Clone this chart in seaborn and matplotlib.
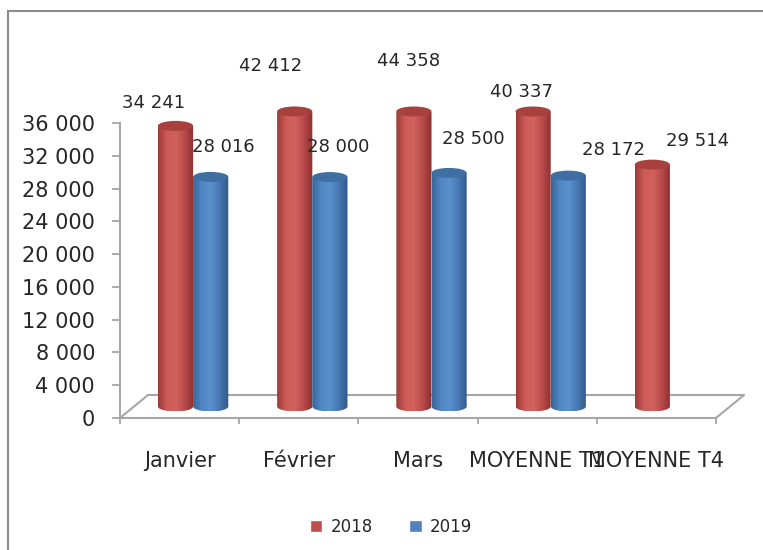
import numpy as np
import pandas as pd
import matplotlib.pyplot as plt
import seaborn as sns
from matplotlib.transforms import ScaledTranslation
from matplotlib.patches import Ellipse, Rectangle, Patch, PathPatch
from matplotlib.path import Path
from matplotlib.colors import LinearSegmentedColormap

# donnees
mois = ["Janvier", "Février", "Mars", "MOYENNE T1", "MOYENNE T4"]
annees = ["2018", "2019"]
valeurs_2018 = [34241, 42412, 44358, 40337, 29514]
valeurs_2019 = [28016, 28000, 28500, 28172, np.nan]
graduations = list(range(0, 36001, 4000))

# decalage des etiquettes (points) par rapport au haut de la barre
decal_2018 = [(-6, 25), (-8, 3), (6, -5), (1, -3), (42, 25)]
decal_2019 = [(19, 30), (16, 30), (27, 33), (42, 27)]

couleurs = ["#C0504D", "#4F81BD"]
degrades = [["#9C3A37", "#CD5B57", "#D2625E", "#B8494A", "#8A302E"],
            ["#3A6699", "#5088C6", "#5A90CE", "#4677B2", "#305887"]]
chapeaux = ["#A8413E", "#3F6EA3"]

df = pd.DataFrame({
    "mois": mois * 2,
    "annee": ["2018"] * 5 + ["2019"] * 5,
    "valeur": valeurs_2018 + valeurs_2019,
}).dropna()

sns.set_style("white")
plt.rcParams["font.family"] = ["DejaVu Sans"]

fig = plt.figure(figsize=(7.63, 5.5), dpi=100)
ax = fig.add_axes([120 / 763, 132 / 550, 596 / 763, 306.5 / 550])

sns.barplot(data=df, x="mois", y="valeur", hue="annee", order=mois,
            hue_order=annees, palette=couleurs, width=0.59, gap=0,
            saturation=1, errorbar=None, legend=False, ax=ax, zorder=3)

ymax = 37400
ax.set_xlim(-0.5, 4.5)
ax.set_ylim(0, ymax)

# effet 3D : barres au milieu du "sol"
profondeur = ScaledTranslation(13.5 / 100, 11.5 / 100, fig.dpi_scale_trans)
tr_milieu = ax.transData + profondeur
h_ell = 10 * ymax / 306.5  # hauteur de l'ellipse en unites de donnees
t = np.linspace(np.pi, 2 * np.pi, 30)

for k, cont in enumerate(ax.containers):
    cmap = LinearSegmentedColormap.from_list("cyl%d" % k, degrades[k])
    for barre in cont:
        h = barre.get_height()
        if np.isnan(h):
            continue
        x0, w = barre.get_x(), barre.get_width()
        xc = x0 + w / 2
        haut = min(h, 36000)
        barre.set_transform(tr_milieu)
        barre.set_visible(False)
        # contour du cylindre : rectangle + demi-ellipse en bas
        pts = [(x0, haut), (x0, 0)]
        pts += list(zip(xc - w / 2 * np.cos(t - np.pi), h_ell / 2 * np.sin(t)))
        pts += [(x0 + w, 0), (x0 + w, haut), (x0, haut)]
        contour = PathPatch(Path(pts, closed=True), transform=tr_milieu)
        img = ax.imshow(np.linspace(0, 1, 64).reshape(1, -1), cmap=cmap,
                        extent=(x0, x0 + w, -h_ell / 2, haut), aspect="auto",
                        transform=tr_milieu, zorder=3.1)
        img.set_clip_path(contour)
        cap = Ellipse((xc, haut), w, h_ell, transform=tr_milieu,
                      facecolor=chapeaux[k], edgecolor="none",
                      zorder=3.2, clip_on=False)
        ax.add_patch(cap)

ax.set_xlim(-0.5, 4.5)
ax.set_ylim(0, ymax)

# sol en perspective
dx = 28 / (596 / 5)
dy = 23 * ymax / 306.5
ax.plot([-0.5, -0.5 + dx, 4.5 + dx, 4.5], [0, dy, dy, 0],
        color="#A6A6A6", lw=1.5, clip_on=False, zorder=1)

# etiquettes de valeurs
series = [(valeurs_2018, decal_2018), (valeurs_2019, decal_2019)]
for k, (vals, decal) in enumerate(series):
    barres = [b for b in ax.containers[k] if not np.isnan(b.get_height())]
    for barre, v, (ox, oy) in zip(barres, [v for v in vals if not np.isnan(v)], decal):
        xc = barre.get_x() + barre.get_width() / 2
        ax.annotate(f"{int(v):,}".replace(",", " "), xy=(xc, v),
                    xytext=(ox, oy), textcoords="offset points",
                    ha="center", va="center", fontsize=13, zorder=6,
                    annotation_clip=False)

ax.set_yticks(graduations)
ax.set_yticklabels([f"{g:,}".replace(",", " ") for g in graduations])
ax.set_xticks(range(len(mois)))
ax.set_xticklabels(mois)
ax.set_xticks(np.arange(-0.5, 5, 1), minor=True)
ax.tick_params(axis="y", left=True, length=6, width=1.3, color="#A6A6A6",
               pad=12, labelsize=15)
ax.tick_params(axis="x", which="major", length=0, pad=24, labelsize=15)
ax.tick_params(axis="x", which="minor", bottom=True, length=4, width=1.3,
               color="#A6A6A6")
ax.set_xlabel("")
ax.set_ylabel("")

for s in ["top", "right"]:
    ax.spines[s].set_visible(False)
for s in ["left", "bottom"]:
    ax.spines[s].set_color("#A6A6A6")
    ax.spines[s].set_linewidth(1.5)
ax.spines["left"].set_bounds(0, 36000)

poignees = [Patch(facecolor=c) for c in couleurs]
fig.legend(poignees, annees, loc="center", bbox_to_anchor=(391 / 763, 23 / 550),
           ncol=2, frameon=False, fontsize=12, handlelength=0.75,
           handleheight=0.75, handletextpad=0.5, columnspacing=2.2)

# cadre du graphique
fig.add_artist(Rectangle((8 / 763, -0.05), 1.1, (550 - 11) / 550 + 0.05,
                         transform=fig.transFigure, fill=False,
                         edgecolor="#8C8C8C", lw=1.5))

fig.savefig("out.png", dpi=100)
